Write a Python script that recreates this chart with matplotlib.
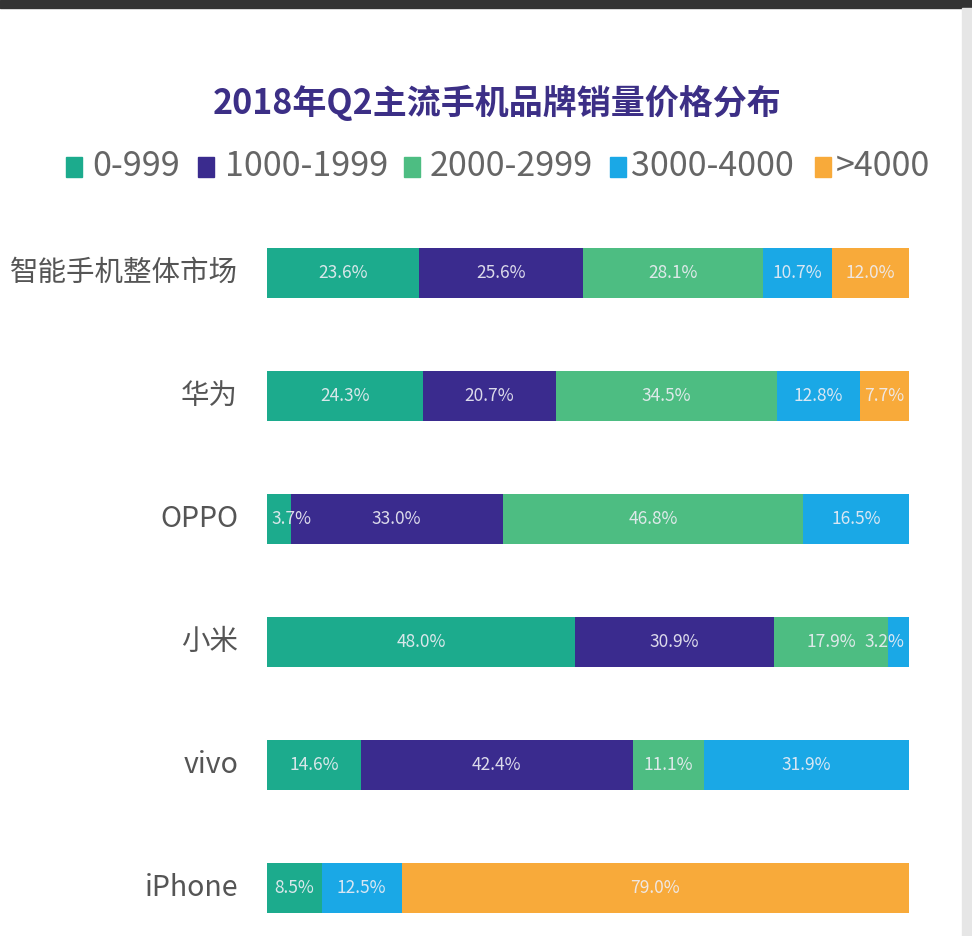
import matplotlib.pyplot as plt
from matplotlib.patches import Rectangle

plt.rcParams['font.family'] = ['Noto Sans CJK SC', 'DejaVu Sans']

# data
brands = ['智能手机整体市场', '华为', 'OPPO', '小米', 'vivo', 'iPhone']
price_bands = ['0-999', '1000-1999', '2000-2999', '3000-4000', '>4000']
band_colors = ['#1cab8d', '#3a2b8e', '#4dbd82', '#1aa8e6', '#f8aa3a']
share_0_999 = [23.6, 24.3, 3.7, 48.0, 14.6, 8.5]
share_1000_1999 = [25.6, 20.7, 33.0, 30.9, 42.4, 0.0]
share_2000_2999 = [28.1, 34.5, 46.8, 17.9, 11.1, 0.0]
share_3000_4000 = [10.7, 12.8, 16.5, 3.2, 31.9, 12.5]
share_over_4000 = [12.0, 7.7, 0.0, 0.0, 0.0, 79.0]
series = [share_0_999, share_1000_1999, share_2000_2999, share_3000_4000, share_over_4000]

W, H = 972, 936
fig = plt.figure(figsize=(W / 100, H / 100), dpi=100)
fig.patch.set_facecolor('white')

# frame bits from the screenshot
fig.patches.append(Rectangle((0, 1 - 8 / H), 1, 8 / H, transform=fig.transFigure,
                             color='#333333', zorder=0))
fig.patches.append(Rectangle((962 / W, 0), 10 / W, 1 - 8 / H, transform=fig.transFigure,
                             color='#e6e6e6', zorder=0))

# axes: 0..100 across x pixels 267..909, rows 123 px apart
ax = fig.add_axes([267 / W, 0, 642 / W, (H - 200) / H])
ax.set_xlim(0, 100)
ax.set_ylim(663 / 123, -73 / 123)
ax.axis('off')

half_label = 3.3  # half a label width in percent units, keeps labels inside the bar
rows = list(range(len(brands)))
left = [0.0] * len(brands)
for vals, color in zip(series, band_colors):
    ax.barh(rows, vals, left=left, height=50 / 123, color=color, edgecolor='none')
    for i, v in enumerate(vals):
        if v > 0:
            cx = left[i] + v / 2
            cx = min(max(cx, half_label + 0.5), 100 - half_label - 0.5)
            ax.text(cx, i, f'{v:.1f}%', ha='center', va='center',
                    fontsize=12.5, color='#eeeef5', alpha=0.9)
    left = [a + b for a, b in zip(left, vals)]

for i, name in enumerate(brands):
    ax.text(-29 / 6.42, i, name, ha='right', va='center', fontsize=20.5, color='#555555')

# title
fig.text(497 / W, 1 - 103 / H, '2018年Q2主流手机品牌销量价格分布', ha='center', va='center',
         fontsize=24.5, fontweight='bold', color='#3c2f86')

# legend, drawn by hand to match spacing
sq_x = [66, 198, 404, 610, 815]
txt_x = [92, 225, 430, 631, 836]
ly = 1 - 167 / H
for sx, tx, lab, color in zip(sq_x, txt_x, price_bands, band_colors):
    fig.patches.append(Rectangle((sx / W, ly - 10 / H), 16 / W, 20 / H,
                                 transform=fig.transFigure, color=color))
    fig.text(tx / W, ly, lab, ha='left', va='center', fontsize=24.5,
             color='#666666', fontweight='light')

fig.savefig('out.png', dpi=100)
